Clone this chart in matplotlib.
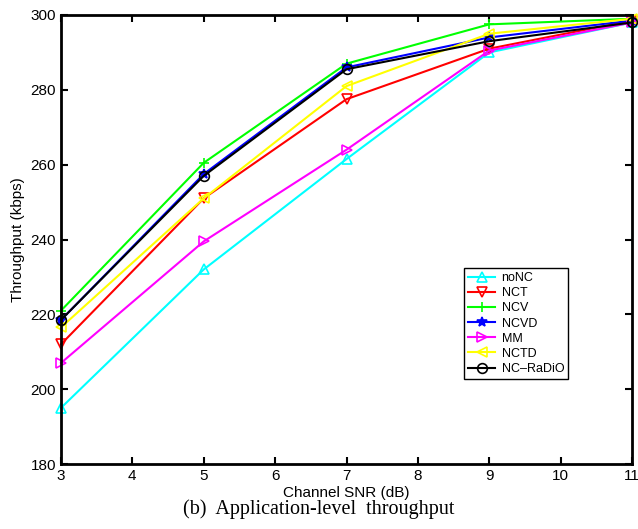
import numpy as np
import matplotlib.pyplot as plt

plt.rcParams['font.family'] = ['Liberation Sans', 'DejaVu Sans']

snr = [3, 5, 7, 9, 11]  # dB

noNC = [195, 232, 261.5, 290, 298]
NCT = [212, 251, 277.5, 291, 298.5]
NCV = [221, 260.5, 287, 297.5, 299]
NCVD = [218.5, 257.5, 286, 294, 298.5]
MM = [207, 239.5, 264, 290.5, 298]
NCTD = [216.5, 251, 281, 295, 299]
NC_RaDiO = [218.5, 257, 285.5, 293, 298]

series = [
    ('noNC', noNC, 'cyan', '^'),
    ('NCT', NCT, 'red', 'v'),
    ('NCV', NCV, 'lime', '+'),
    ('NCVD', NCVD, 'blue', '*'),
    ('MM', MM, 'magenta', '>'),
    ('NCTD', NCTD, 'yellow', '<'),
    ('NC\u2013RaDiO', NC_RaDiO, 'black', 'o'),
]

fig = plt.figure(figsize=(6.38, 5.29), dpi=100)
ax = fig.add_axes([61/638, 1 - 464/529, 571/638, 449/529])

for name, vals, col, mk in series:
    mfc = col if mk == '*' else 'none'
    ax.plot(snr, vals, color=col, marker=mk, mfc=mfc, mec=col,
            markersize=7, mew=1.2, lw=1.5, label=name, clip_on=False)

ax.set_xlim(3, 11)
ax.set_ylim(180, 300)
ax.set_xticks(range(3, 12))
ax.set_yticks(range(180, 301, 20))
ax.tick_params(direction='in', top=True, right=True, length=5, width=1.5,
               labelsize=11)
for sp in ax.spines.values():
    sp.set_linewidth(2)

ax.set_xlabel('Channel SNR (dB)', fontsize=11, labelpad=2)
ax.set_ylabel('Throughput (kbps)', fontsize=11, labelpad=4)

leg = ax.legend(loc='lower left', bbox_to_anchor=(0.706, 0.19), fontsize=9,
                fancybox=False, edgecolor='black', framealpha=1,
                handlelength=2.2, labelspacing=0.25, borderpad=0.3,
                handletextpad=0.5, borderaxespad=0)
leg.get_frame().set_linewidth(1)

fig.text(0.5, 1 - 509/529, '(b)  Application-level  throughput',
         ha='center', va='center', fontsize=14.5, family='Liberation Serif')

fig.savefig('out.png', dpi=100)
